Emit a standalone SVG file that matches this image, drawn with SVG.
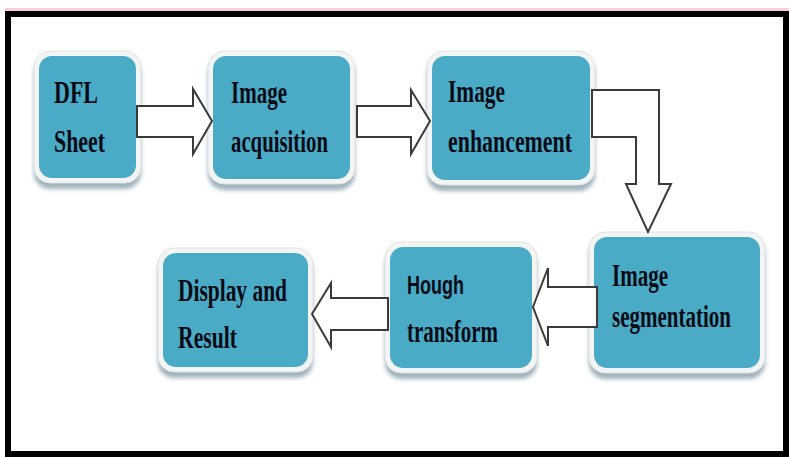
<svg xmlns="http://www.w3.org/2000/svg" width="789" height="457" viewBox="0 0 789 457">
<defs>
<filter id="blur" x="-10%" y="-10%" width="120%" height="130%"><feGaussianBlur stdDeviation="2"/></filter>
<style>
.shadow{fill:#9fb3bc;filter:url(#blur)}
.halo{fill:#f3f5f5;stroke:#dfe3e4;stroke-width:1}
.box{fill:#4aabc6}
.lbl{font-family:"Liberation Serif","Times New Roman",serif;font-weight:bold;font-size:31px;fill:#0b0b16}
.sans{font-family:"Liberation Sans",Arial,sans-serif;font-weight:bold;font-size:26px;fill:#0b0b16}
.arrow{fill:#ffffff;stroke:#3a3a3a;stroke-width:2;stroke-linejoin:miter}
</style>
</defs>
<rect x="0" y="0" width="789" height="457" fill="#ffffff"/>
<rect x="5" y="8" width="784" height="3" fill="#f7cfd8"/>
<rect x="8" y="14" width="778" height="440" fill="#ffffff" stroke="#000000" stroke-width="6"/>

<g id="node-dfl">
<rect class="shadow" x="34" y="57" width="107" height="132" rx="16"/>
<rect class="halo" x="34" y="51" width="107" height="132" rx="16"/>
<rect class="box" x="39" y="56" width="97" height="122" rx="13"/>
<text class="lbl" x="54" y="103" textLength="44" lengthAdjust="spacingAndGlyphs">DFL</text>
<text class="lbl" x="54" y="152" textLength="51" lengthAdjust="spacingAndGlyphs">Sheet</text>
</g>

<g id="node-acquisition">
<rect class="shadow" x="208" y="57" width="147" height="133" rx="16"/>
<rect class="halo" x="208" y="51" width="147" height="133" rx="16"/>
<rect class="box" x="213" y="56" width="137" height="123" rx="13"/>
<text class="lbl" x="231" y="103" textLength="56" lengthAdjust="spacingAndGlyphs">Image</text>
<text class="lbl" x="231" y="152" textLength="97" lengthAdjust="spacingAndGlyphs">acquisition</text>
</g>

<g id="node-enhancement">
<rect class="shadow" x="427" y="57" width="168" height="134" rx="16"/>
<rect class="halo" x="427" y="51" width="168" height="134" rx="16"/>
<rect class="box" x="432" y="56" width="158" height="124" rx="13"/>
<text class="lbl" x="448" y="102" textLength="57" lengthAdjust="spacingAndGlyphs">Image</text>
<text class="lbl" x="448" y="152" textLength="124" lengthAdjust="spacingAndGlyphs">enhancement</text>
</g>

<g id="node-segmentation">
<rect class="shadow" x="589" y="238" width="176" height="141" rx="16"/>
<rect class="halo" x="589" y="232" width="176" height="141" rx="16"/>
<rect class="box" x="594" y="237" width="166" height="131" rx="13"/>
<text class="lbl" x="612" y="286" textLength="56" lengthAdjust="spacingAndGlyphs">Image</text>
<text class="lbl" x="612" y="327" textLength="119" lengthAdjust="spacingAndGlyphs">segmentation</text>
</g>

<g id="node-hough">
<rect class="shadow" x="385" y="248" width="152" height="131" rx="16"/>
<rect class="halo" x="385" y="242" width="152" height="131" rx="16"/>
<rect class="box" x="390" y="247" width="142" height="121" rx="13"/>
<text class="sans" x="407" y="294" textLength="57" lengthAdjust="spacingAndGlyphs">Hough</text>
<text class="lbl" x="407" y="342" textLength="91" lengthAdjust="spacingAndGlyphs">transform</text>
</g>

<g id="node-display">
<rect class="shadow" x="158" y="254" width="155" height="124" rx="16"/>
<rect class="halo" x="158" y="248" width="155" height="124" rx="16"/>
<rect class="box" x="163" y="253" width="145" height="114" rx="13"/>
<text class="lbl" x="178" y="301" textLength="109" lengthAdjust="spacingAndGlyphs">Display and</text>
<text class="lbl" x="178" y="348" textLength="59" lengthAdjust="spacingAndGlyphs">Result</text>
</g>

<g id="connectors">
<polygon class="arrow" points="137,106 193,106 193,89 212,121 193,154 193,137 137,137"/>
<polygon class="arrow" points="357,106 411,106 411,90 430,121 411,154 411,137 357,137"/>
<polygon class="arrow" points="592,90 659,90 659,184 671,184 648,232 626,184 636,184 636,137 592,137"/>
<polygon class="arrow" points="597,287 548,287 548,268 533,307 548,346 548,327 597,327"/>
<polygon class="arrow" points="388,298 331,298 331,283 312,314 331,347 331,330 388,330"/>
</g>
</svg>
